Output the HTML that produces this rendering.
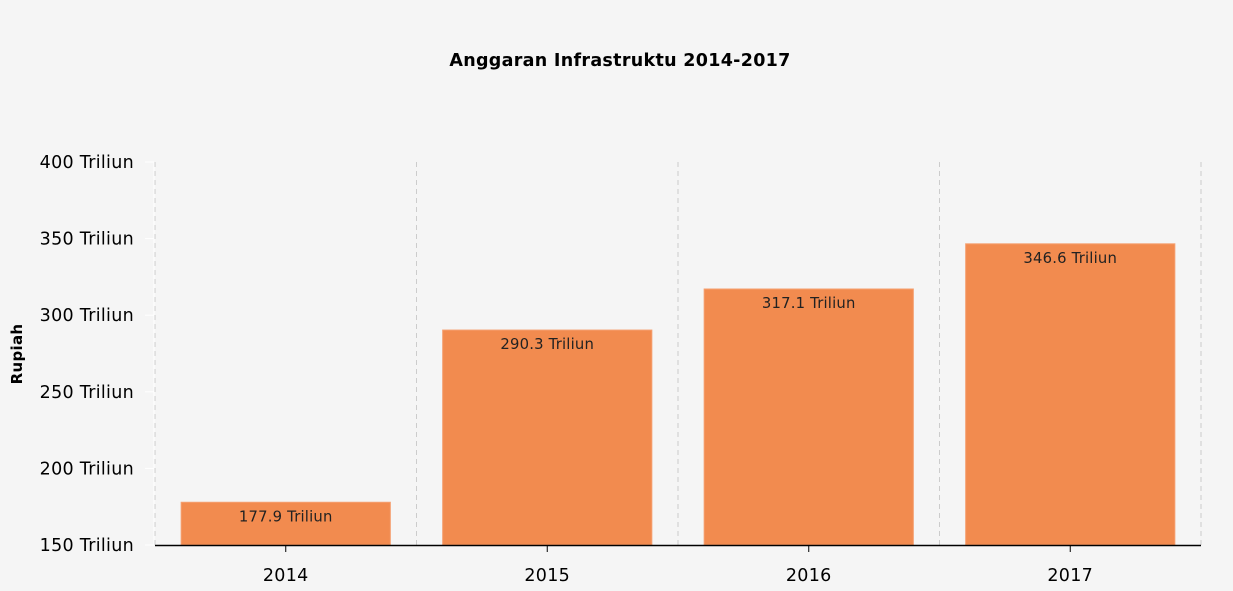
<!DOCTYPE html>
<html><head><meta charset="utf-8"><style>
body{margin:0;background:#f5f5f5;}
svg{display:block;font-family:"DejaVu Sans",Verdana,sans-serif;}
</style></head><body>
<svg id="chart" width="1233" height="591">
<rect width="1233" height="591" fill="#f5f5f5"/>
<text x="620" y="66" text-anchor="middle" font-size="17.5" font-weight="bold" letter-spacing="0.3" fill="#000">Anggaran Infrastruktu 2014-2017</text>
<text transform="translate(22,354) rotate(-90)" text-anchor="middle" font-size="15" font-weight="bold" letter-spacing="0.3" fill="#000">Rupiah</text>
<g id="grid"></g><g id="bars"></g><g id="axes"></g>
</svg>
<script>
const categories=["2014","2015","2016","2017"];
const values=[177.9,290.3,317.1,346.6];
const valueLabels=["177.9 Triliun","290.3 Triliun","317.1 Triliun","346.6 Triliun"];
const yTicks=[150,200,250,300,350,400];
const yTickLabels=["150 Triliun","200 Triliun","250 Triliun","300 Triliun","350 Triliun","400 Triliun"];
const NS="http://www.w3.org/2000/svg";
const L=155,R=1201,T=162,B=545,ymin=150,ymax=400;
const y=v=>B-(v-ymin)/(ymax-ymin)*(B-T);
const bw=(R-L)/categories.length;
const xc=i=>L+bw*(i+0.5);
function mk(tag,attrs,parent){const e=document.createElementNS(NS,tag);for(const k in attrs)e.setAttribute(k,attrs[k]);parent.appendChild(e);return e;}
const grid=document.getElementById('grid'),bars=document.getElementById('bars'),axes=document.getElementById('axes');
for(let i=0;i<=categories.length;i++){
  const g=mk('line',{x1:L+bw*i,x2:L+bw*i,y1:T,y2:B,stroke:'#ccc','stroke-dasharray':'5,4'},grid);
  
  
}
categories.forEach((c,i)=>{
  const x0=L+bw*i+bw*0.1,w=bw*0.8;
  const r=mk('rect',{x:x0,y:y(values[i]),width:w,height:B-y(values[i]),fill:'#f28b4f',stroke:'#f5a070','stroke-width':1},bars);
  
  
  const t=mk('text',{x:xc(i),y:y(values[i])+19,'text-anchor':'middle','font-size':14.8,'letter-spacing':0.2,fill:'#222'},bars);
  t.textContent=valueLabels[i];
  
  
  const tk=mk('line',{x1:xc(i),x2:xc(i),y1:B,y2:B+7,stroke:'#000'},axes);
  
  
  const xl=mk('text',{x:xc(i),y:B+36,'text-anchor':'middle','font-size':17.5,'letter-spacing':0.3,fill:'#000'},axes);
  xl.textContent=c;
  
  
});
const ya=mk('line',{x1:L-1,x2:L-1,y1:T,y2:B,stroke:'#fff','stroke-width':1},axes);


yTicks.forEach((v,i)=>{
  const tk=mk('line',{x1:L-10,x2:L-1,y1:y(v),y2:y(v),stroke:'#fff'},axes);
  
  
  const t=mk('text',{x:134,y:y(v)+6,'text-anchor':'end','font-size':17.5,'letter-spacing':0.3,fill:'#000'},axes);
  t.textContent=yTickLabels[i];
  
  
});
const xa=mk('line',{x1:L,x2:R,y1:B+0.5,y2:B+0.5,stroke:'#000','stroke-width':1.5},axes);


</script>
</body></html>
